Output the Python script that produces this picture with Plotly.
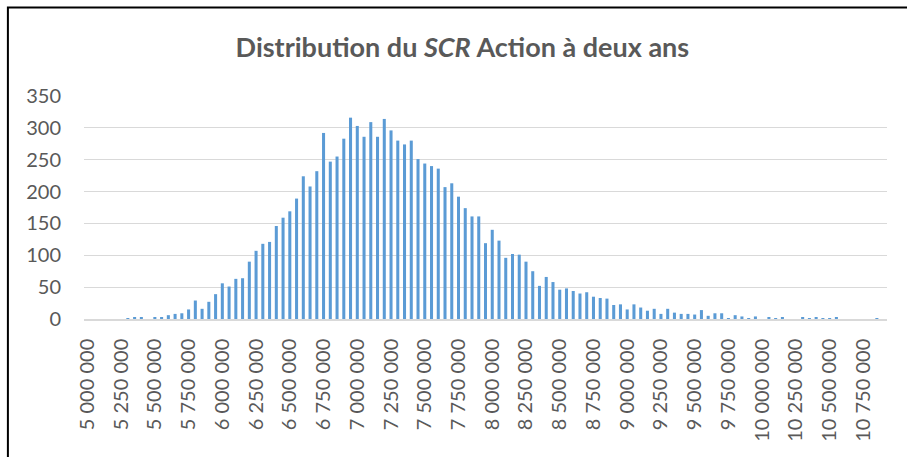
import plotly.graph_objects as go

# Histogram bins (lower bound of each 50 000 class)
bin_starts = list(range(5_000_000, 10_950_000, 50_000))

counts = [
    0, 0, 0, 0, 0, 0, 1, 2, 2, 0,
    3, 2, 6, 8, 9, 15, 29, 16, 27, 39,
    56, 51, 63, 64, 90, 107, 118, 121, 146, 159,
    169, 189, 224, 208, 232, 292, 247, 255, 283, 316,
    303, 286, 309, 286, 314, 296, 280, 274, 280, 251,
    244, 240, 236, 207, 213, 192, 174, 161, 161, 119,
    140, 123, 96, 102, 101, 90, 75, 52, 66, 58,
    46, 48, 44, 40, 42, 35, 33, 32, 22, 23,
    15, 23, 18, 13, 16, 8, 16, 10, 8, 8,
    7, 14, 5, 9, 9, 1, 6, 4, 1, 4,
    0, 3, 1, 2, 0, 0, 2, 1, 3, 1,
    1, 2, 0, 0, 0, 0, 0, 1, 0,
]

tick_values = bin_starts[::5]
tick_labels = [f"{v:,}".replace(",", " ") for v in tick_values]

y_ticks = [0, 50, 100, 150, 200, 250, 300, 350]

categories = [f"{v:,}".replace(",", " ") for v in bin_starts]

TEXT = "#595959"
FONT = "Lato"

fig = go.Figure(
    go.Bar(
        x=categories,
        y=counts,
        marker=dict(color="#5B9BD5", line=dict(width=0)),
        hoverinfo="x+y",
    )
)

W, H = 907, 457
left, right = 83.6, 886.6
top, bottom = 96.0, 319.3

def px_to_paper_x(px):
    return (px - left) / (right - left)

def px_to_paper_y(py):
    return (bottom - py) / (bottom - top)

fig.update_layout(
    width=W,
    height=H,
    margin=dict(l=left, r=W - right, t=top, b=H - bottom, pad=0),
    paper_bgcolor="white",
    plot_bgcolor="white",
    bargap=0.55,
    showlegend=False,
    font=dict(family=FONT, color=TEXT, size=20),
    title=dict(
        text="<b>Distribution du <i>SCR</i> Action à deux ans</b>",
        x=px_to_paper_x(462),
        xref="paper",
        xanchor="center",
        y=1 - 48 / H,
        yref="container",
        yanchor="middle",
        font=dict(family=FONT, size=27, color=TEXT),
    ),
    xaxis=dict(
        type="category",
        tickmode="array",
        tickvals=[categories[i] for i in range(0, len(categories), 5)],
        ticktext=tick_labels,
        tickangle=-90,
        showgrid=False,
        showline=True,
        linecolor="#D9D9D9",
        linewidth=1.5,
        ticks="",
        ticklabelstandoff=10,
        tickfont=dict(family=FONT, size=20, color=TEXT),
        zeroline=False,
    ),
    yaxis=dict(
        range=[0, 350],
        tickmode="array",
        tickvals=y_ticks,
        showgrid=True,
        gridcolor="#D9D9D9",
        gridwidth=1.3,
        showline=False,
        zeroline=False,
        ticks="",
        ticklabelstandoff=22,
        tickfont=dict(family=FONT, size=20, color=TEXT),
    ),
    shapes=[
        dict(
            type="path",
            xref="paper",
            yref="paper",
            path=(
                f"M {px_to_paper_x(7.5)},{px_to_paper_y(470)} "
                f"L {px_to_paper_x(7.5)},{px_to_paper_y(7.5)} "
                f"L {px_to_paper_x(920)},{px_to_paper_y(7.5)}"
            ),
            line=dict(color="black", width=2),
        )
    ],
)

fig.write_html(
    "out.html",
    config={"displayModeBar": False},
    post_script="document.body.style.margin='0';document.body.style.overflow='hidden';",
)
